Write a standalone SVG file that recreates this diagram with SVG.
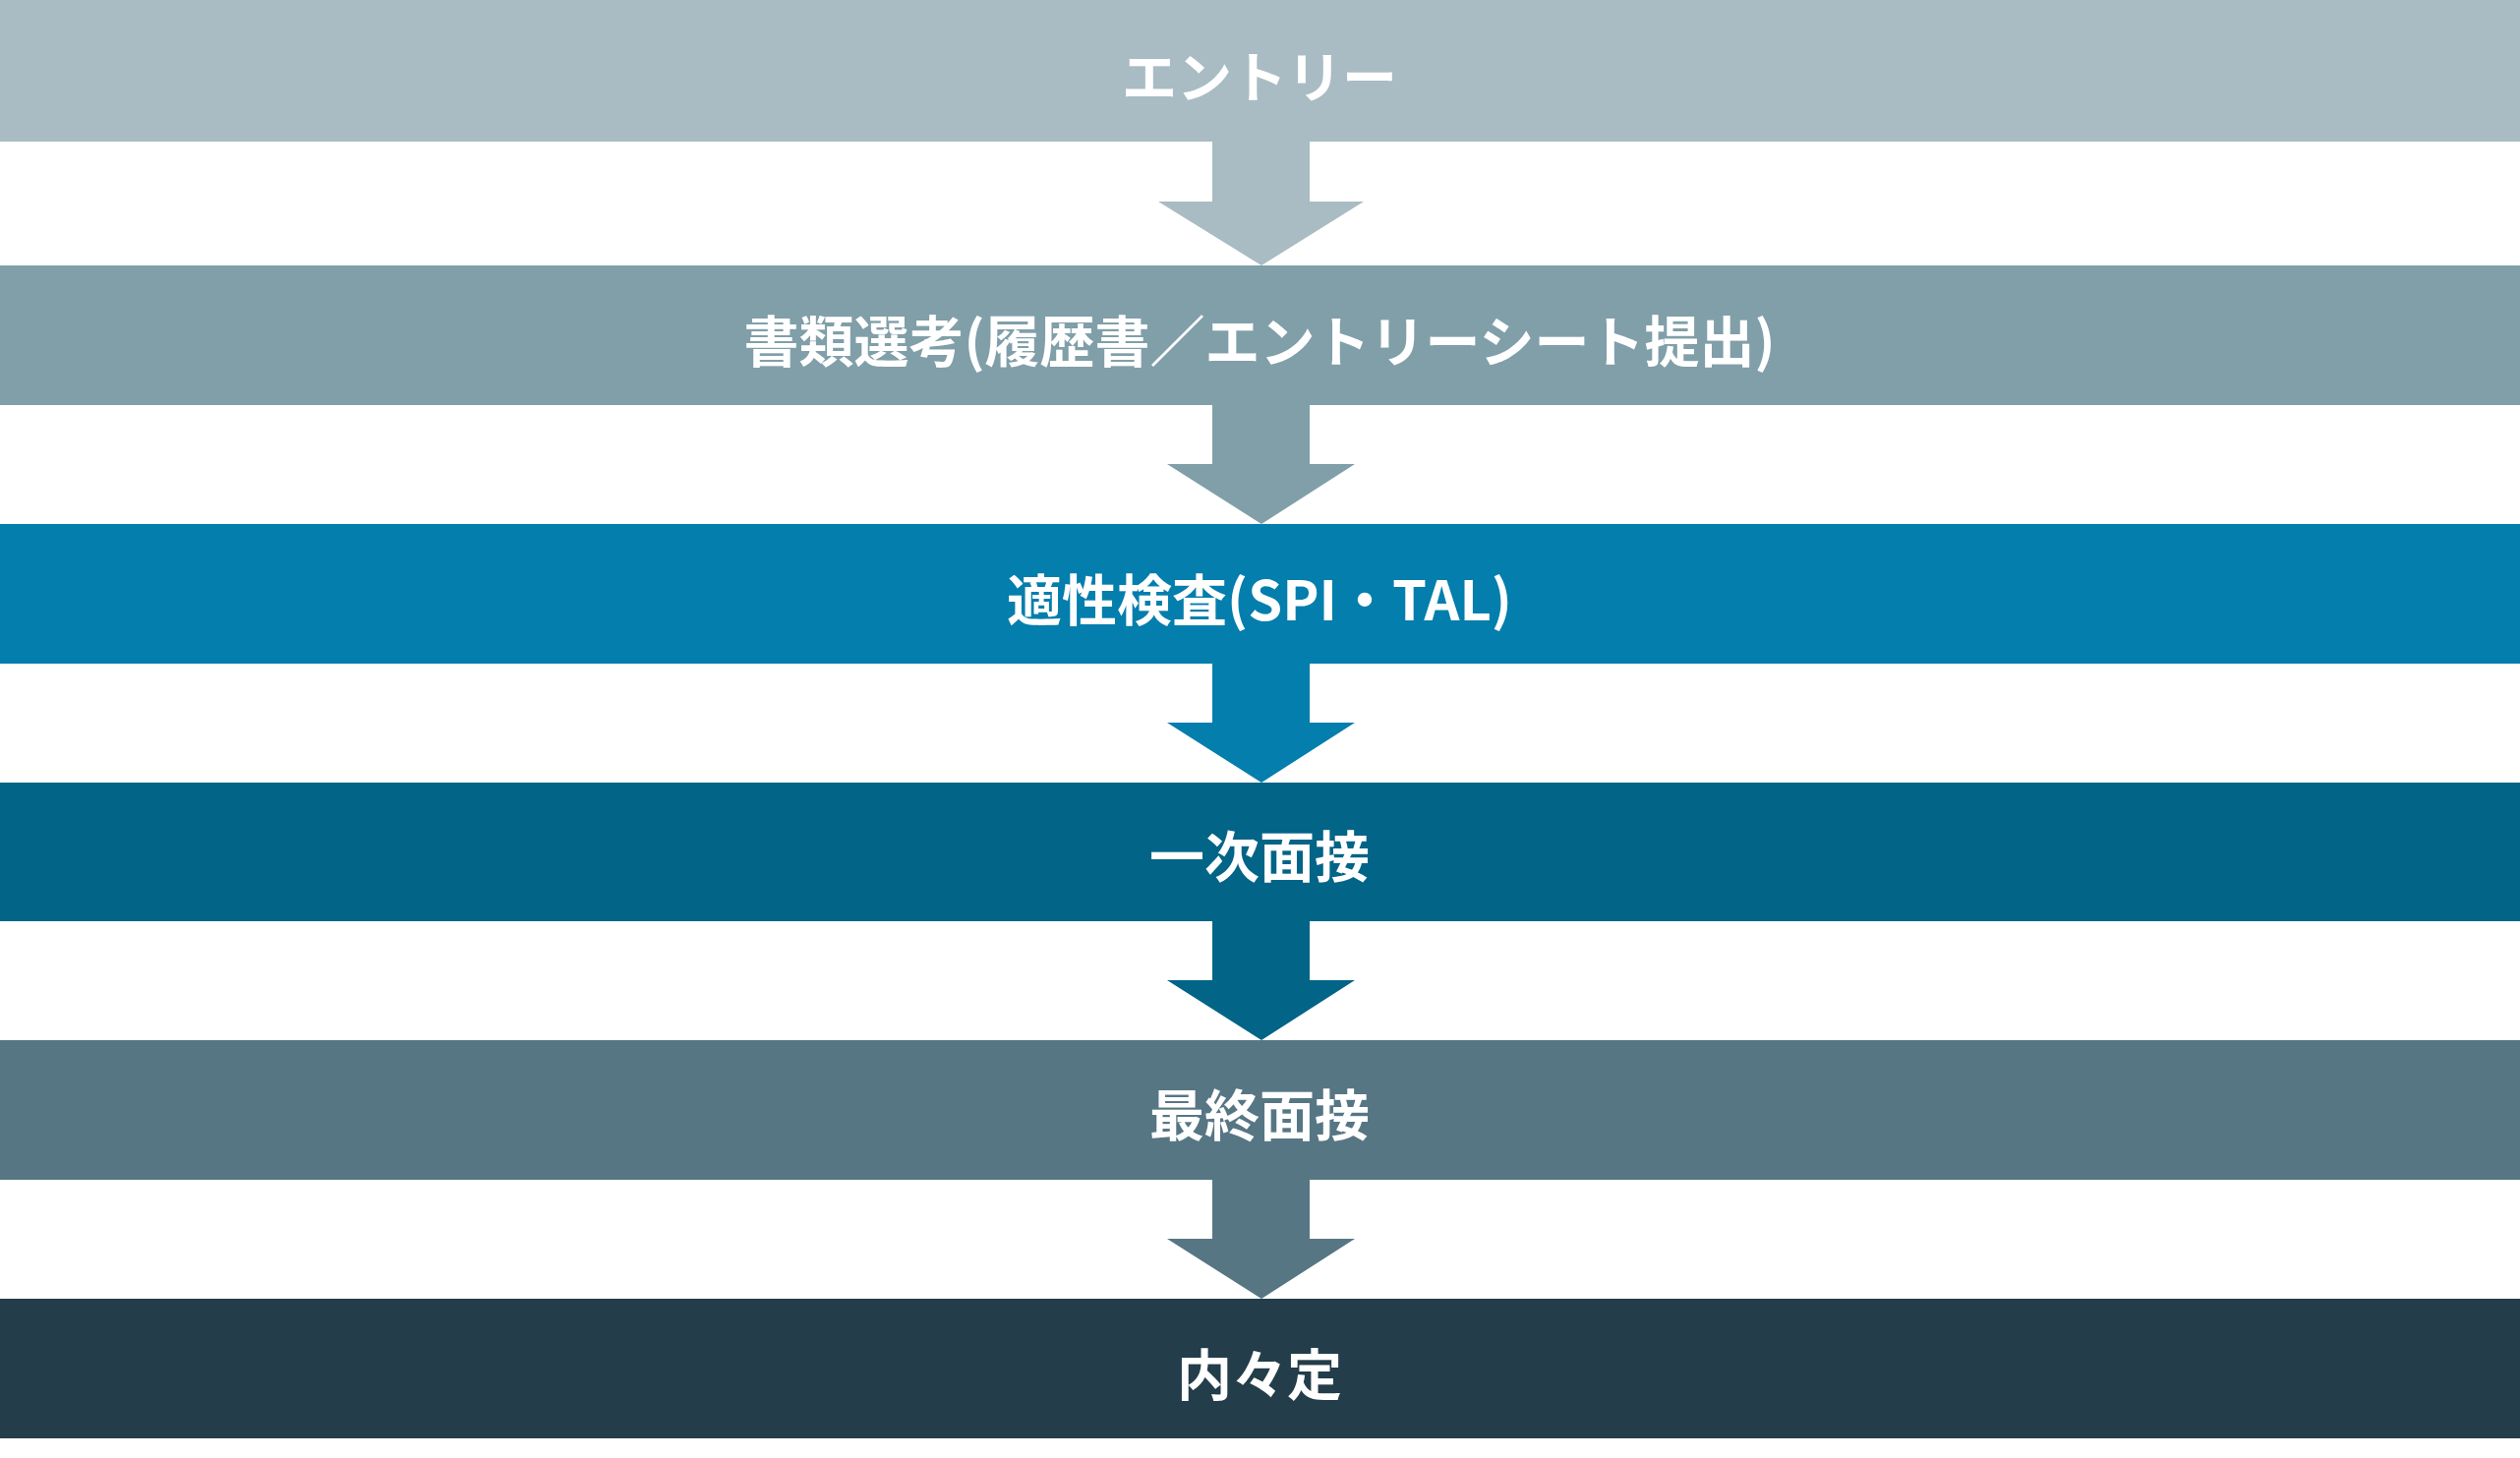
<svg xmlns="http://www.w3.org/2000/svg" width="2563" height="1483" viewBox="0 0 2563 1483">
<style>
text{font-family:"Noto Sans CJK JP","Noto Sans",sans-serif;font-weight:bold;font-size:56px;fill:#fff;text-anchor:middle;dominant-baseline:central}
</style>
<rect width="2563" height="1483" fill="#fff"/>
<g id="connectors">
<path d="M1233 144V205H1178L1283 270L1387 205H1332V144Z" fill="#A9BBC3"/>
<path d="M1233 412V472H1187L1283 533L1378 472H1332V412Z" fill="#809FA9"/>
<path d="M1233 675V735H1187L1283 796L1378 735H1332V675Z" fill="#037EAD"/>
<path d="M1233 937V997H1187L1283 1058L1378 997H1332V937Z" fill="#026487"/>
<path d="M1233 1200V1260H1187L1283 1321L1378 1260H1332V1200Z" fill="#577684"/>
</g>
<g id="n1"><rect y="0" width="2563" height="144" fill="#A9BBC3"/><text x="1281" y="74">エントリー</text></g>
<g id="n2"><rect y="270" width="2563" height="142" fill="#809FA9"/><text x="1281" y="343">書類選考(履歴書／エントリーシート提出)</text></g>
<g id="n3"><rect y="533" width="2563" height="142" fill="#037EAD"/><text x="1281" y="606">適性検査(SPI・TAL)</text></g>
<g id="n4"><rect y="796" width="2563" height="141" fill="#026487"/><text x="1281" y="867">一次面接</text></g>
<g id="n5"><rect y="1058" width="2563" height="142" fill="#577684"/><text x="1281" y="1130">最終面接</text></g>
<g id="n6"><rect y="1321" width="2563" height="142" fill="#233D4A"/><text x="1281" y="1394">内々定</text></g>
</svg>
